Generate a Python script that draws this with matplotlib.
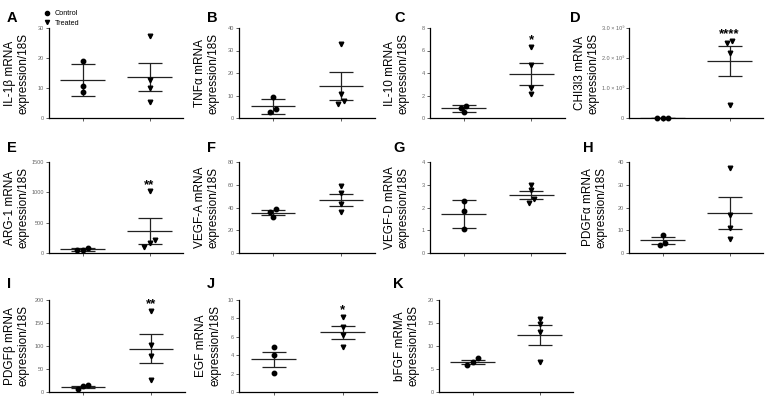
import matplotlib
matplotlib.use('Agg')
import matplotlib.pyplot as plt
from matplotlib.lines import Line2D
from matplotlib.ticker import FuncFormatter

plt.rcParams['font.family'] = ['Liberation Sans', 'DejaVu Sans']

W, H = 768, 409

letters = ['A', 'B', 'C', 'D', 'E', 'F', 'G', 'H', 'I', 'J', 'K']
ylabels = ['IL-1β mRNA', 'TNFα mRNA', 'IL-10 mRNA', 'CHI3l3 mRNA',
           'ARG-1 mRNA', 'VEGF-A mRNA', 'VEGF-D mRNA', 'PDGFα mRNA',
           'PDGFβ mRNA', 'EGF mRNA', 'bFGF mRMA']

# individual animals
il1b_ctrl = [18.9, 10.6, 8.7]
il1b_trt = [27.2, 12.6, 10.0, 5.2]
tnfa_ctrl = [9.3, 4.0, 2.8]
tnfa_trt = [33.0, 10.8, 7.7, 6.2]
il10_ctrl = [1.04, 0.92, 0.50]
il10_trt = [6.34, 4.68, 2.67, 2.16]
chi3l3_ctrl = [0, 0, 0]
chi3l3_trt = [2.58e9, 2.49e9, 2.18e9, 0.44e9]
arg1_ctrl = [89, 55, 50]
arg1_trt = [1018, 216, 160, 100]
vegfa_ctrl = [38.9, 36.3, 31.6]
vegfa_trt = [59.3, 52.5, 43.1, 35.7]
vegfd_ctrl = [2.27, 1.83, 1.06]
vegfd_trt = [2.98, 2.75, 2.38, 2.21]
pdgfa_ctrl = [8.1, 4.4, 3.7]
pdgfa_trt = [37.2, 16.8, 11.1, 6.3]
pdgfb_ctrl = [16.0, 13.5, 7.5]
pdgfb_trt = [177, 103, 78.5, 26]
egf_ctrl = [4.84, 4.0, 2.04]
egf_trt = [8.15, 7.05, 6.15, 4.87]
bfgf_ctrl = [7.4, 6.5, 5.96]
bfgf_trt = [15.8, 14.7, 13.0, 6.55]

ctrl_pts = [il1b_ctrl, tnfa_ctrl, il10_ctrl, chi3l3_ctrl, arg1_ctrl, vegfa_ctrl,
            vegfd_ctrl, pdgfa_ctrl, pdgfb_ctrl, egf_ctrl, bfgf_ctrl]
trt_pts = [il1b_trt, tnfa_trt, il10_trt, chi3l3_trt, arg1_trt, vegfa_trt,
           vegfd_trt, pdgfa_trt, pdgfb_trt, egf_trt, bfgf_trt]

# mean and error bars as drawn
ctrl_mean = [12.7, 5.3, 0.86, 0, 61, 35.4, 1.71, 5.5, 11.6, 3.56, 6.55]
ctrl_err = [5.4, 3.3, 0.31, 0, 22, 2.1, 0.60, 1.4, 2.5, 0.82, 0.40]
trt_mean = [13.6, 14.1, 3.88, 1.9e9, 365, 46.9, 2.54, 17.6, 94.5, 6.47, 12.36]
trt_err = [4.7, 6.2, 0.98, 0.49e9, 216, 5.3, 0.17, 6.9, 31.5, 0.69, 2.1]

ymax = [30, 40, 8, 3e9, 1500, 80, 4, 40, 200, 10, 20]
ystep = [10, 10, 2, 1e9, 500, 20, 1, 10, 50, 2, 5]
stars = ['', '', '*', '****', '**', '', '', '', '**', '*', '']

# layout in pixels: (left, top, right, bottom) of each axes
boxes = [(49, 28, 183, 118), (239, 28, 375, 118), (430, 28, 565, 118), (629, 28, 763, 118),
         (49, 162, 183, 253), (239, 162, 375, 253), (430, 162, 565, 253), (629, 162, 763, 253),
         (49, 300, 185, 392), (239, 300, 377, 392), (439, 300, 573, 392)]
label_gap = [19, 19, 20, 29, 19, 19, 20, 21, 19, 18, 19]
letter_xy = [(7, 11), (207, 11), (394, 11), (570, 11), (7, 141), (207, 141), (393, 141),
             (583, 141), (7, 277), (207, 277), (393, 277)]


def spread(vals, px_per_unit, d=0.08, thr=4.5):
    # put overlapping points side by side, like a scatter dot plot
    order = sorted(range(len(vals)), key=lambda i: vals[i])
    offs = [0.0] * len(vals)
    groups = []
    for i in order:
        if groups and (vals[i] - vals[groups[-1][-1]]) * px_per_unit < thr:
            groups[-1].append(i)
        else:
            groups.append([i])
    for g in groups:
        n = len(g)
        for k, i in enumerate(g):
            offs[i] = (k - (n - 1) / 2) * d
    return offs


def sci(v, pos):
    if v == 0:
        return '0'
    return '%.1f × 10⁹' % (v / 1e9)


fig = plt.figure(figsize=(W / 100, H / 100), dpi=100)

for p in range(11):
    l, t, r, b = boxes[p]
    ax = fig.add_axes([l / W, 1 - b / H, (r - l) / W, (b - t) / H])
    ax.set_xlim(-0.5, 1.5)
    ax.set_ylim(0, ymax[p])
    ppu = (b - t) / ymax[p]

    for gx, pts, mk, ms, mean, err in [(0, ctrl_pts[p], 'o', 3.2, ctrl_mean[p], ctrl_err[p]),
                                       (1, trt_pts[p], 'v', 3.3, trt_mean[p], trt_err[p])]:
        offs = spread(pts, ppu)
        ax.plot([gx + o for o in offs], pts, linestyle='none', marker=mk,
                color='black', markersize=ms, clip_on=False, zorder=3)
        ax.hlines(mean, gx - 0.33, gx + 0.33, color='#222222', lw=0.9, zorder=2)
        ax.errorbar([gx], [mean], yerr=[err], fmt='none', ecolor='#222222',
                    elinewidth=0.9, capsize=8.3, capthick=0.9, zorder=2)

    if stars[p]:
        ax.annotate(stars[p], (1, max(trt_pts[p])), xytext=(0, 2.5),
                    textcoords='offset points', ha='center', va='baseline',
                    fontsize=9.5, fontweight='bold', annotation_clip=False)

    ax.set_yticks([ystep[p] * k for k in range(int(round(ymax[p] / ystep[p])) + 1)])
    if p == 3:
        ax.yaxis.set_major_formatter(FuncFormatter(sci))
    ax.set_xticks([0, 1])
    ax.set_xticklabels([])
    ax.tick_params(axis='both', length=2, width=0.6, color='#444444',
                   labelsize=4, labelcolor='#666666', pad=1.5)
    for s in ['top', 'right']:
        ax.spines[s].set_visible(False)
    for s in ['left', 'bottom']:
        ax.spines[s].set_linewidth(0.9)

    ax.set_ylabel(ylabels[p] + '\nexpression/18S', fontsize=8.5, linespacing=1.2)
    ax.yaxis.set_label_coords(-label_gap[p] / (r - l), 0.5)

    lx, ly = letter_xy[p]
    fig.text(lx / W, 1 - ly / H, letters[p], ha='left', va='top',
             fontsize=10.5, fontweight='bold')

    if p == 0:
        handles = [Line2D([], [], linestyle='none', marker='o', color='black', markersize=3.0),
                   Line2D([], [], linestyle='none', marker='v', color='black', markersize=3.0)]
        ax.legend(handles, ['Control', 'Treated'], loc='upper left',
                  bbox_to_anchor=(44 / W, 1 - 10 / H), bbox_transform=fig.transFigure,
                  frameon=False, fontsize=5.2, handlelength=0.8, handletextpad=0.7,
                  borderpad=0, borderaxespad=0, labelspacing=0.35)

fig.savefig('out.png', dpi=100)
